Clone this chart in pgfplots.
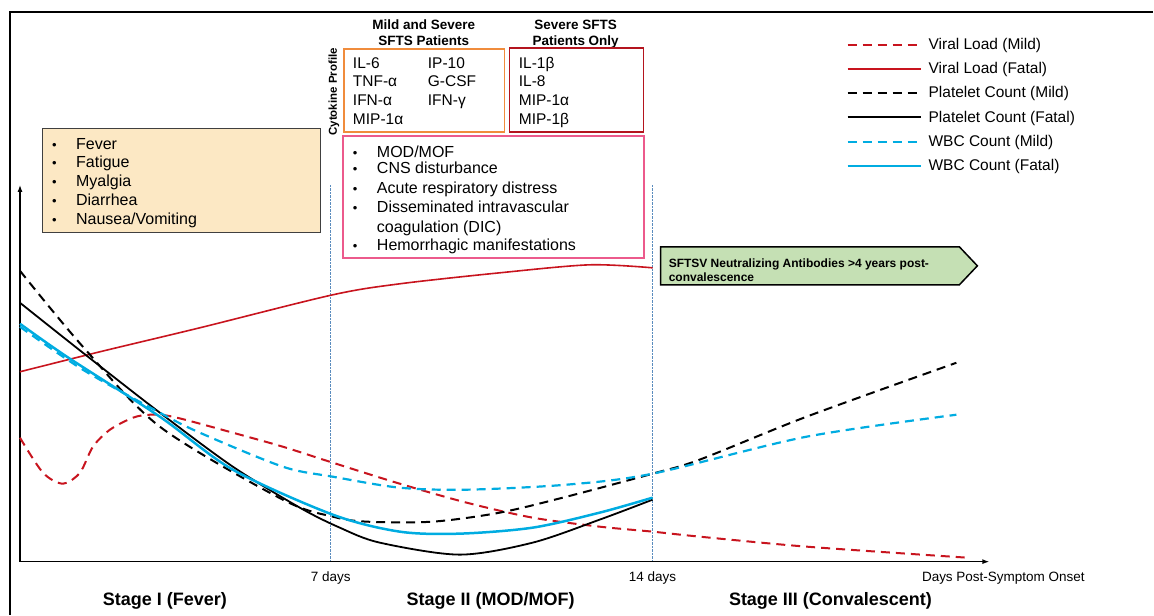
\documentclass[border=0pt]{standalone}
\usepackage{fontspec}
\setmainfont{Liberation Sans}
\usepackage{pgfplots}
\pgfplotsset{compat=1.18}
\usetikzlibrary{arrows.meta}

\definecolor{vred}{RGB}{200,20,30}
\definecolor{vcyan}{RGB}{0,172,225}
\definecolor{boxorange}{RGB}{240,140,60}
\definecolor{boxred}{RGB}{180,20,30}
\definecolor{boxpink}{RGB}{236,90,140}
\definecolor{peach}{RGB}{252,232,196}
\definecolor{agreen}{RGB}{197,224,180}
\definecolor{gridblue}{RGB}{90,140,190}

\newcommand{\fs}[1]{\fontsize{#1}{#1}\selectfont}
% bullet line: x, y (negative px), text
\newcommand{\bul}[3]{\node[anchor=base west,font=\fs{16},inner sep=0pt] at (axis cs:#1,#2) {\makebox[24pt][l]{\fs{13}\textbullet}#3};}
\newcommand{\txt}[3]{\node[anchor=base west,font=\fs{15.5},inner sep=0pt] at (axis cs:#1,#2) {#3};}

\begin{document}
\begin{tikzpicture}
\begin{axis}[
  scale only axis, width=970pt, height=377pt,
  xmin=20, xmax=990, ymin=-562, ymax=-185,
  axis lines=left,
  axis line style={line width=1.3pt, -{Latex[length=7pt,width=5pt]}},
  xtick={331,653}, xticklabels={7 days,14 days}, ytick=\empty,
  major tick length=0pt,
  xmajorgrids, grid style={densely dotted, gridblue, line width=0.8pt},
  xticklabel style={font=\fs{13.5}, yshift=-7pt},
  clip=false,
  legend cell align=left,
  legend image code/.code={\draw[#1, line width=2pt] (0pt,0pt) -- (73pt,0pt);},
  legend style={at={(0.8526,1.3900)}, anchor=north west, draw=none, fill=none,
    inner sep=0pt, row sep=11.6pt, font=\fs{15.5},
    nodes={inner sep=0pt, anchor=west},
    /tikz/every odd column/.append style={column sep=7pt}},
]
% Viral load (mild)
\addplot[vred, line width=2pt, dash pattern=on 9pt off 6pt, smooth] coordinates {
 (20,-438) (43,-473) (63,-484) (80,-473) (93,-447) (110,-430) (133,-418) (150,-415)
 (173,-417) (233,-433) (283,-447) (333,-463) (400,-484) (467,-503) (533,-518)
 (600,-527) (653,-532) (700,-537) (807,-547) (967,-558)};
\addlegendentry{Viral Load (Mild)}
% Viral load (fatal)
\addplot[vred, line width=1.6pt, smooth] coordinates {
 (20,-372) (100,-352) (200,-328) (333,-295) (400,-284) (500,-273) (590,-265) (653,-268)};
\addlegendentry{Viral Load (Fatal)}
% Platelet count (mild)
\addplot[black, line width=2pt, dash pattern=on 9pt off 6pt, smooth] coordinates {
 (20,-271) (83,-347) (160,-427) (283,-500) (333,-517) (367,-522) (433,-522)
 (500,-513) (567,-497) (653,-474) (700,-460) (807,-417) (957,-363)};
\addlegendentry{Platelet Count (Mild)}
% Platelet count (fatal)
\addplot[black, line width=1.8pt, smooth] coordinates {
 (20,-303) (83,-353) (160,-413) (233,-467) (300,-508) (340,-528) (380,-543)
 (460,-555) (533,-543) (600,-520) (653,-500)};
\addlegendentry{Platelet Count (Fatal)}
% WBC count (mild)
\addplot[vcyan, line width=2.2pt, dash pattern=on 9pt off 6pt, smooth] coordinates {
 (20,-327) (83,-370) (160,-413) (200,-433) (283,-467) (333,-477) (400,-488)
 (467,-490) (567,-485) (653,-474) (807,-437) (957,-415)};
\addlegendentry{WBC Count (Mild)}
% WBC count (fatal)
\addplot[vcyan, line width=2.5pt, smooth] coordinates {
 (20,-324) (67,-357) (160,-417) (233,-470) (333,-515) (400,-532) (460,-534)
 (533,-528) (600,-513) (653,-498)};
\addlegendentry{WBC Count (Fatal)}

% frame and page extent
\path (axis cs:0,-615) rectangle (axis cs:1154,0);
\draw[line width=1.5pt] (axis cs:10,-615) -- (axis cs:10,-12) -- (axis cs:1154,-12);

% Stage I symptoms
\draw[fill=peach, draw=black!75, line width=1pt] (axis cs:43,-129) rectangle (axis cs:321,-233);
\bul{52}{-150}{Fever}
\bul{52}{-168}{Fatigue}
\bul{52}{-187}{Myalgia}
\bul{52}{-206}{Diarrhea}
\bul{52}{-225}{Nausea/Vomiting}

% cytokine boxes
\node[font=\bfseries\fs{13.5}, anchor=base] at (axis cs:424,-30) {Mild and Severe};
\node[font=\bfseries\fs{13.5}, anchor=base] at (axis cs:424,-46) {SFTS Patients};
\node[font=\bfseries\fs{13.5}, anchor=base] at (axis cs:576,-30) {Severe SFTS};
\node[font=\bfseries\fs{13.5}, anchor=base] at (axis cs:576,-46) {Patients Only};
\node[font=\bfseries\fs{11.5}, rotate=90] at (axis cs:334,-92) {Cytokine Profile};
\draw[boxorange, line width=1.5pt] (axis cs:344,-49) rectangle (axis cs:505,-132);
\draw[boxred, line width=1.5pt] (axis cs:510,-48) rectangle (axis cs:644,-132);
\txt{353}{-69}{IL-6}
\txt{353}{-87}{TNF-α}
\txt{353}{-106}{IFN-α}
\txt{353}{-125}{MIP-1α}
\txt{428}{-69}{IP-10}
\txt{428}{-87}{G-CSF}
\txt{428}{-106}{IFN-γ}
\txt{519}{-69}{IL-1β}
\txt{519}{-87}{IL-8}
\txt{519}{-106}{MIP-1α}
\txt{519}{-125}{MIP-1β}

% Stage II manifestations
\draw[boxpink, line width=2pt] (axis cs:343,-136) rectangle (axis cs:644,-258);
\bul{353}{-158}{MOD/MOF}
\bul{353}{-174}{CNS disturbance}
\bul{353}{-194}{Acute respiratory distress}
\bul{353}{-213}{Disseminated intravascular}
\node[anchor=base west,font=\fs{16},inner sep=0pt] at (axis cs:377,-233) {coagulation (DIC)};
\bul{353}{-251}{Hemorrhagic manifestations}

% antibodies arrow
\draw[fill=agreen, line width=1.5pt] (axis cs:661,-247) -- (axis cs:960,-247)
  -- (axis cs:978,-266) -- (axis cs:960,-285) -- (axis cs:661,-285) -- cycle;
\node[font=\bfseries\fs{12}, anchor=base west, inner sep=0pt] at (axis cs:669,-268) {SFTSV Neutralizing Antibodies >4 years post-};
\node[font=\bfseries\fs{12}, anchor=base west, inner sep=0pt] at (axis cs:669,-282) {convalescence};

% axis and stage labels
\node[font=\fs{13.5}] at (axis cs:1004,-579) {Days Post-Symptom Onset};
\node[font=\bfseries\fs{18}] at (axis cs:165,-601) {Stage I (Fever)};
\node[font=\bfseries\fs{18}] at (axis cs:491,-601) {Stage II (MOD/MOF)};
\node[font=\bfseries\fs{18}] at (axis cs:831,-601) {Stage III (Convalescent)};
\end{axis}
\end{tikzpicture}
\end{document}
